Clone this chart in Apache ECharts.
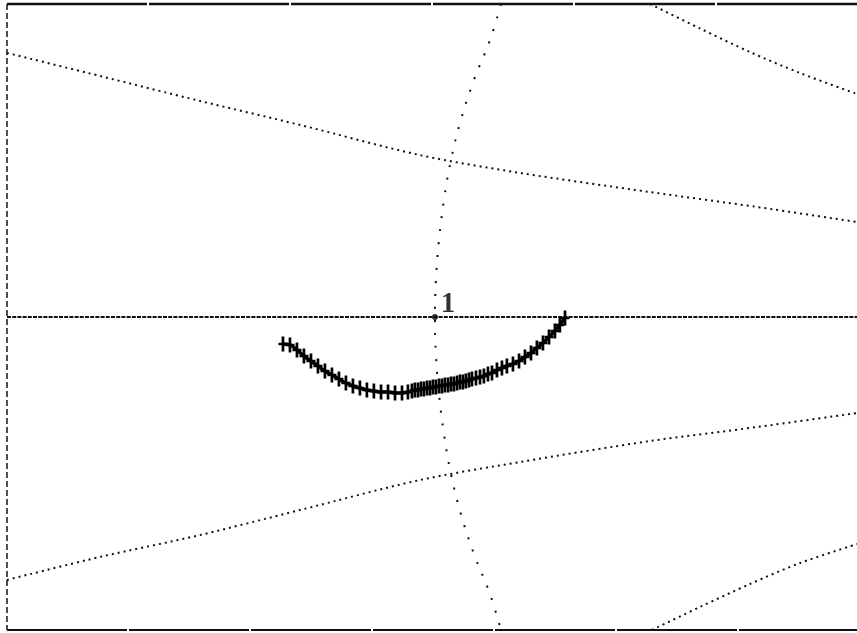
<!DOCTYPE html>
<html>
<head>
<meta charset="utf-8">
<script src="https://cdn.jsdelivr.net/npm/echarts@6/dist/echarts.min.js"></script>
<style>html,body{margin:0;padding:0;background:#fff}#c{width:857px;height:633px}</style>
</head>
<body>
<div id="c"></div>
<script>
// Reflection-coefficient plane (x1000), zoomed Smith chart around the centre point "1"
var reMin = -275.4, reMax = 271.6, imMin = -201.4, imMax = 201.4;

// constant-reactance arcs (upper / lower)
var arcUpper = [[-275.4,169.9],[-215.6,155.1],[-151.2,139.0],[-86.9,123.6],[-9.7,104.2],[54.7,92.7],[138.4,80.4],[207.2,70.8],[271.6,61.1]];
var arcLower = [[-275.4,-169.2],[-215.6,-154.4],[-151.2,-140.3],[-86.9,-124.2],[-9.7,-104.9],[54.7,-93.3],[138.4,-79.8],[207.2,-70.8],[271.6,-61.8]];
// outer arcs at the right corners
var arcTopRight = [[138.4,201.4],[170.5,185.7],[202.7,170.5],[234.9,157.0],[271.6,143.5]];
var arcBottomRight = [[139.6,-201.4],[170.5,-186.6],[202.7,-171.8],[234.9,-158.3],[271.6,-146.1]];
// unit-resistance circle through the centre
var circleR1 = [[42.5,201.4],[35.4,178.2],[25.1,152.5],[16.7,126.8],[10.3,101.0],[5.8,75.3],[2.6,49.5],[0.6,23.8],[0,0],[0.6,-23.8],[2.6,-49.5],[5.8,-75.3],[10.3,-101.0],[16.7,-126.8],[25.1,-152.5],[35.4,-178.2],[42.5,-201.4]];

// measured locus
var locusRe = [-97.8,-93.3,-88.8,-84.3,-79.8,-75.3,-70.8,-66.3,-61.8,-57.3,-52.8,-48.3,-43.8,-39.3,-34.7,-30.2,-25.7,-21.2,-17.4,-14.8,-12.9,-10.9,-9.0,-7.1,-5.1,-3.2,-1.3,0.6,2.6,4.5,6.4,8.4,10.3,12.2,14.2,16.1,18.0,19.9,21.9,23.8,26.4,29.0,31.5,34.1,36.7,39.9,43.1,46.3,50.2,54.1,57.9,61.8,65.6,69.5,73.4,77.2,80.4,83.7];
var locusIm = [-17.4,-18.0,-21.2,-25.1,-28.3,-31.5,-34.7,-37.3,-39.9,-42.5,-44.4,-45.7,-47.0,-47.6,-48.3,-48.3,-48.9,-48.9,-48.3,-47.6,-47.0,-47.0,-46.3,-46.3,-45.7,-45.7,-45.0,-45.0,-44.4,-44.4,-43.8,-43.8,-43.1,-43.1,-42.5,-41.8,-41.8,-41.2,-40.5,-39.9,-39.3,-38.6,-38.0,-36.7,-36.0,-34.1,-32.8,-31.5,-30.2,-28.3,-25.7,-23.2,-19.9,-16.7,-12.9,-9.0,-5.1,-0.6];
var centreLabel = '1';

var locus = locusRe.map(function(r,i){return [r, locusIm[i]];});

function dotted(name, data, dash, width, smooth){
  return {name:name, type:'line', data:data, symbol:'none', smooth:smooth, clip:false, silent:true,
    lineStyle:{color:'#111', width:width, type:dash, cap:'butt'}};
}

var chart = echarts.init(document.getElementById('c'), null, {renderer:'canvas'});
chart.setOption({
  animation:false,
  backgroundColor:'#fff',
  grid:{left:7, right:0, top:4, bottom:3},
  xAxis:{type:'value', min:reMin, max:reMax, show:false},
  yAxis:{type:'value', min:imMin, max:imMax, show:false},
  series:[
    {name:'top', type:'line', data:[[reMin,imMax],[reMax,imMax]], symbol:'none', clip:false,
      lineStyle:{color:'#111', width:2.5, type:[140,2]}},
    {name:'bottom', type:'line', data:[[reMin,imMin],[reMax,imMin]], symbol:'none', clip:false,
      lineStyle:{color:'#111', width:2.2, type:[120,2]}},
    {name:'left', type:'line', data:[[reMin,imMax],[reMin,imMin]], symbol:'none', clip:false,
      lineStyle:{color:'#222', width:1.6, type:[6,3]}},
    {name:'real', type:'line', data:[[reMin,0],[reMax,0]], symbol:'none', clip:false,
      lineStyle:{color:'#111', width:1.8, type:[4,1.2]}},
    dotted('x+', arcUpper, [2,4], 2, 0.3),
    dotted('x-', arcLower, [2,4], 2, 0.3),
    dotted('x+outer', arcTopRight, [2,4], 2, 0.3),
    dotted('x-outer', arcBottomRight, [2,4], 2, 0.3),
    dotted('r1', circleR1, [2,11], 2, 0.4),
    {name:'locus', type:'line', data:locus, smooth:0.4, clip:false,
      symbol:'path://M3.5,0H6.5V14H3.5Z M0,5.8H10V8.2H0Z', symbolSize:[9,15], showAllSymbol:true,
      itemStyle:{color:'#000'},
      lineStyle:{color:'#000', width:3.5}},
    {name:'centre', type:'scatter', data:[[0,0]], symbolSize:6, itemStyle:{color:'#000'},
      label:{show:true, formatter:centreLabel, position:'top', distance:0, offset:[13,5],
        fontFamily:'Liberation Serif', fontSize:29, fontWeight:'bold', color:'#000'}}
  ]
});
</script>
</body>
</html>
